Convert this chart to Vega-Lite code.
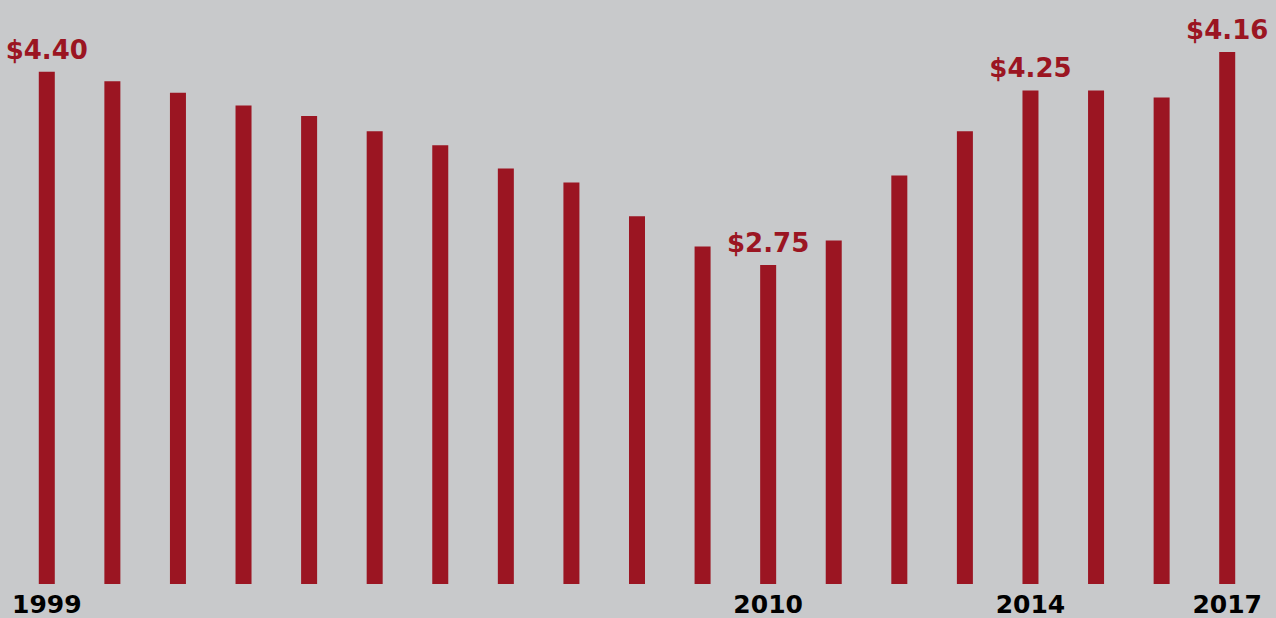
{
  "$schema": "https://vega.github.io/schema/vega-lite/v6.json",
  "autosize": {"type": "none"},
  "padding": {"left": 14, "top": 0, "right": 16, "bottom": 34},
  "width": 1246,
  "height": 584,
  "background": "#c8c9cb",
  "config": {"view": {"stroke": null}},
  "data": {
    "values": [
      {"year": "1999", "value": 4.40, "label": "$4.40"},
      {"year": "2000", "value": 4.32, "label": ""},
      {"year": "2001", "value": 4.22, "label": ""},
      {"year": "2002", "value": 4.11, "label": ""},
      {"year": "2003", "value": 4.02, "label": ""},
      {"year": "2004", "value": 3.89, "label": ""},
      {"year": "2005", "value": 3.77, "label": ""},
      {"year": "2006", "value": 3.57, "label": ""},
      {"year": "2007", "value": 3.45, "label": ""},
      {"year": "2008", "value": 3.16, "label": ""},
      {"year": "2009", "value": 2.90, "label": ""},
      {"year": "2010", "value": 2.74, "label": "$2.75"},
      {"year": "2011", "value": 2.95, "label": ""},
      {"year": "2012", "value": 3.51, "label": ""},
      {"year": "2013", "value": 3.89, "label": ""},
      {"year": "2014", "value": 4.24, "label": "$4.25"},
      {"year": "2015", "value": 4.24, "label": ""},
      {"year": "2016", "value": 4.18, "label": ""},
      {"year": "2017", "value": 4.57, "label": "$4.16"}
    ]
  },
  "encoding": {
    "x": {
      "field": "year",
      "type": "ordinal",
      "scale": {"paddingInner": 0.756, "paddingOuter": 0.378},
      "axis": {
        "title": null,
        "domain": false,
        "ticks": false,
        "labelAngle": 0,
        "labelFont": "DejaVu Sans",
        "labelFontWeight": "bold",
        "labelFontSize": 25,
        "labelColor": "#000000",
        "labelBaseline": "alphabetic",
        "labelPadding": 28,
        "labelOverlap": false,
        "labelExpr": "indexof(['1999','2010','2014','2017'], datum.value) >= 0 ? datum.value : ''"
      }
    },
    "y": {
      "field": "value",
      "type": "quantitative",
      "scale": {"domain": [0, 5.017], "nice": false, "zero": true},
      "axis": null
    }
  },
  "layer": [
    {"mark": {"type": "bar", "color": "#9b1522"}},
    {
      "mark": {
        "type": "text",
        "font": "DejaVu Sans",
        "fontWeight": "bold",
        "fontSize": 26,
        "color": "#9b1522",
        "baseline": "alphabetic",
        "align": "center",
        "dy": -13
      },
      "encoding": {"text": {"field": "label"}}
    }
  ]
}
